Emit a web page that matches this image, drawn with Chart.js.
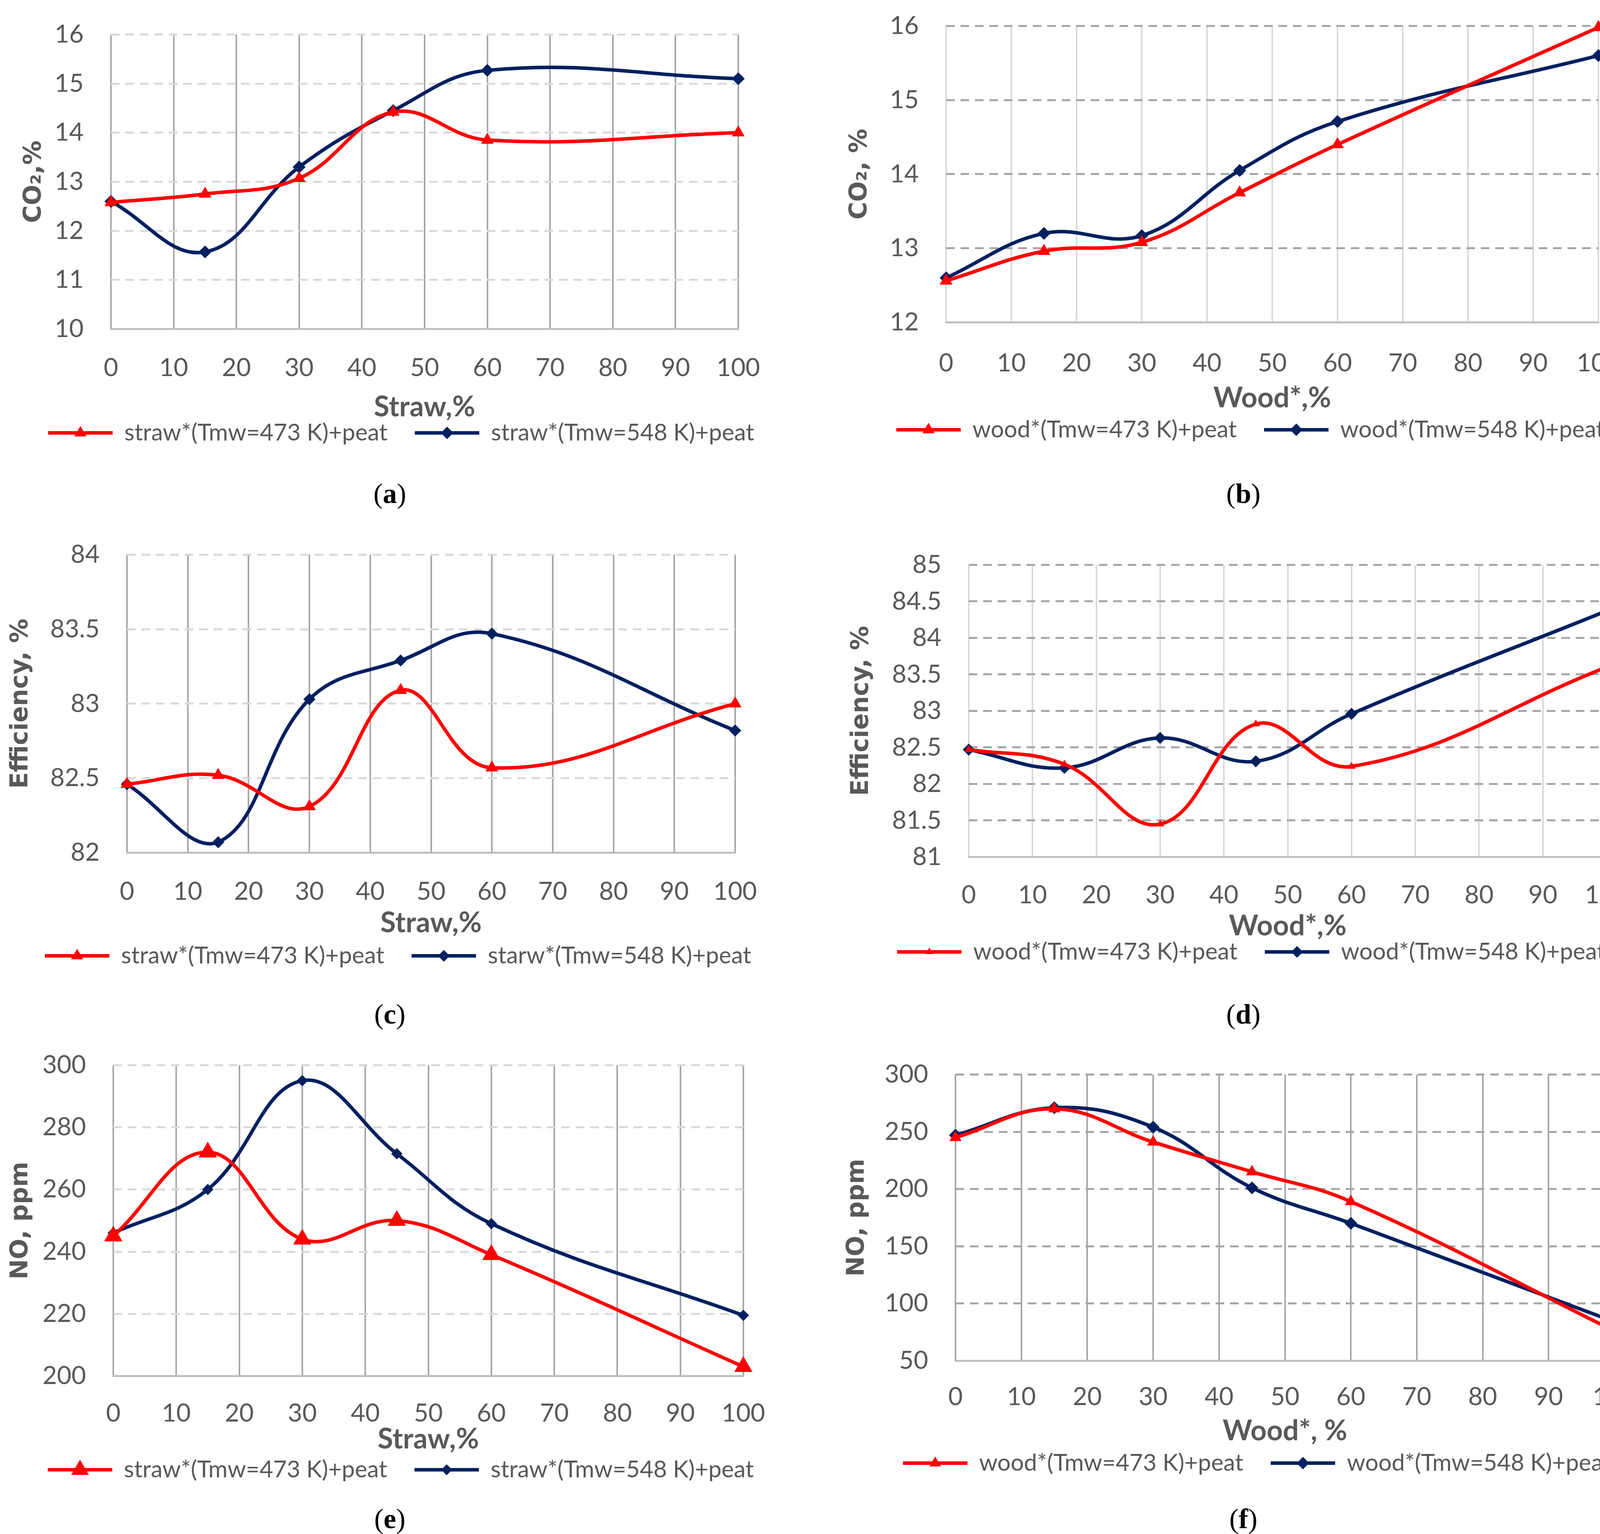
<!DOCTYPE html>
<html lang="en">
<head>
<meta charset="UTF-8">
<title>CO2, efficiency and NO of straw*/wood* + peat blends</title>
<script src="https://cdn.jsdelivr.net/npm/chart.js"></script>
    <style>
        * {
        margin: 0;
        padding: 0;
        box-sizing: border-box;
        }

        html, body {
        width: 4200px;
        height: 3928px;
        overflow: hidden;
        background: #fff;
        }

        #page {
        position: relative;
        width: 4200px;
        height: 3928px;
        overflow: hidden;
        }

        .panel {
        position: absolute;
        }

        .cap {
        position: absolute;
        width: 300px;
        margin-left: -150px;
        text-align: center;
        font-family: 'Liberation Serif', serif;
        font-size: 72px;
        line-height: 1;
        color: #000;
        }
    </style>
</head>
<body>
<div id="page">

    <div class="panel" id="pa"><canvas id="ca"></canvas></div>
    <div class="panel" id="pb"><canvas id="cb"></canvas></div>
    <div class="panel" id="pc"><canvas id="cc"></canvas></div>
    <div class="panel" id="pd"><canvas id="cd"></canvas></div>
    <div class="panel" id="pe"><canvas id="ce"></canvas></div>
    <div class="panel" id="pf"><canvas id="cf"></canvas></div>

    <div class="cap" style="left:998px; top:1228px;">(<b>a</b>)</div>
    <div class="cap" style="left:3183px; top:1228px;">(<b>b</b>)</div>
    <div class="cap" style="left:998px; top:2561px;">(<b>c</b>)</div>
    <div class="cap" style="left:3183px; top:2561px;">(<b>d</b>)</div>
    <div class="cap" style="left:998px; top:3853px;">(<b>e</b>)</div>
    <div class="cap" style="left:3183px; top:3853px;">(<b>f</b>)</div>

</div>

    <script>
        // share of straw* / wood* in the blend, %
        const mixX = [0, 15, 30, 45, 60, 100];
        const xTicks = [0, 10, 20, 30, 40, 50, 60, 70, 80, 90, 100];

        // (a) CO2 vs straw
        const co2Straw473 = [12.58, 12.75, 13.07, 14.42, 13.85, 14.0];
        const co2Straw548 = [12.6, 11.57, 13.3, 14.45, 15.27, 15.1];
        const co2StrawTicks = [10, 11, 12, 13, 14, 15, 16];

        // (b) CO2 vs wood
        const co2Wood473 = [12.56, 12.96, 13.08, 13.75, 14.4, 15.98];
        const co2Wood548 = [12.6, 13.2, 13.17, 14.05, 14.71, 15.6];
        const co2WoodTicks = [12, 13, 14, 15, 16];

        // (c) efficiency vs straw
        const effStraw473 = [82.46, 82.52, 82.31, 83.09, 82.57, 83.0];
        const effStraw548 = [82.46, 82.07, 83.03, 83.29, 83.47, 82.82];
        const effStrawTicks = [82, 82.5, 83, 83.5, 84];

        // (d) efficiency vs wood
        const effWood473 = [82.47, 82.27, 81.45, 82.82, 82.24, 83.6];
        const effWood548 = [82.47, 82.22, 82.63, 82.31, 82.96, 84.37];
        const effWoodTicks = [81, 81.5, 82, 82.5, 83, 83.5, 84, 84.5, 85];

        // (e) NO vs straw
        const noStraw473 = [245, 272, 244, 250, 239, 203];
        const noStraw548 = [246, 260, 295, 271.5, 249, 219.5];
        const noStrawTicks = [200, 220, 240, 260, 280, 300];

        // (f) NO vs wood
        const noWood473 = [245, 270, 241, 215, 189, 76];
        const noWood548 = [247, 271, 254, 201, 170, 84];
        const noWoodTicks = [50, 100, 150, 200, 250, 300];

        const strawNames = ['straw*(Tmw=473 K)+peat', 'straw*(Tmw=548 K)+peat'];
        const strawNamesC = ['straw*(Tmw=473 K)+peat', 'starw*(Tmw=548 K)+peat'];
        const woodNames = ['wood*(Tmw=473 K)+peat', 'wood*(Tmw=548 K)+peat'];

        const RED = '#ff0000';
        const NAVY = '#002060';
        const GREY_TXT = '#595959';
        const DARK_GRID = '#a6a6a6';
        const LIGHT_GRID = '#d9d9d9';

        const TICK_FONT = 64;
        const TICK_PAD = 70;
        const LEG_FONT = 60;
        const LEG_PAD = 70;
        const XT_FONT = 72;
        const YT_FONT = 62;

        // draws the marker in the middle of each legend line
        const legendMarks = {
            id: 'legendMarks',
            afterDraw(chart) {
                const lg = chart.legend;
                if (!lg || !lg.legendHitBoxes) return;
                const ctx = chart.ctx;
                const bw = lg.options.labels.boxWidth;
                lg.legendHitBoxes.forEach((hb, i) => {
                    const ds = chart.data.datasets[lg.legendItems[i].datasetIndex];
                    const cx = hb.left + bw / 2;
                    const cy = hb.top + LEG_FONT / 2;
                    const r = ds.pointRadius;
                    ctx.save();
                    ctx.fillStyle = ds.borderColor;
                    ctx.beginPath();
                    if (ds.pointStyle === 'triangle') {
                        for (let k = 0; k < 3; k++) {
                            const a = k * 2 * Math.PI / 3;
                            const px = cx + Math.sin(a) * r, py = cy - Math.cos(a) * r;
                            if (k === 0) ctx.moveTo(px, py); else ctx.lineTo(px, py);
                        }
                    } else {
                        ctx.moveTo(cx - r, cy);
                        ctx.lineTo(cx, cy - r);
                        ctx.lineTo(cx + r, cy);
                        ctx.lineTo(cx, cy + r);
                    }
                    ctx.closePath();
                    ctx.fill();
                    ctx.restore();
                });
            }
        };

        function line(name, ys, color, style, radius) {
            return {
                label: name,
                data: mixX.map((x, i) => ({x: x, y: ys[i]})),
                yAxisID: 'y',
                borderColor: color,
                backgroundColor: color,
                pointBackgroundColor: color,
                pointBorderColor: color,
                pointBorderWidth: 1,
                pointStyle: style,
                pointRadius: radius,
                borderWidth: 9,
                tension: 0.4,
                clip: false
            };
        }

        function draw(p) {
            // geometry in page pixels; the y axis keeps half a label + padding above the plot
            const top = p.plot[1] - (TICK_FONT * 0.6 + TICK_PAD);
            const width = 2 * (p.legendX - p.left);
            const legTop = p.legendY - LEG_PAD - LEG_FONT / 2;
            const height = legTop + LEG_FONT + LEG_PAD + 10 - top;
            const box = document.getElementById(p.box);
            box.style.left = p.left + 'px';
            box.style.top = top + 'px';
            box.style.width = width + 'px';
            box.style.height = height + 'px';

            const yW = p.plot[0] - p.left;
            const y2W = p.left + width - p.plot[2];
            const xH = legTop - p.plot[3];

            new Chart(document.getElementById(p.canvas), {
                type: 'line',
                data: {
                    datasets: [
                        line(p.names[0], p.red, RED, 'triangle', p.redR),
                        line(p.names[1], p.blue, NAVY, 'rectRot', p.blueR)
                    ]
                },
                options: {
                    responsive: true,
                    maintainAspectRatio: false,
                    animation: false,
                    devicePixelRatio: 1,
                    layout: { padding: 0 },
                    plugins: {
                        tooltip: { enabled: false },
                        legend: {
                            position: 'bottom',
                            labels: {
                                boxWidth: 165,
                                boxHeight: 9,
                                padding: LEG_PAD,
                                color: GREY_TXT,
                                font: { family: 'Lato', size: LEG_FONT },
                                generateLabels(chart) {
                                    const items = Chart.defaults.plugins.legend.labels.generateLabels(chart);
                                    items.forEach(it => { it.lineWidth = 0; it.fillStyle = it.strokeStyle; });
                                    return items;
                                }
                            }
                        }
                    },
                    scales: {
                        x: {
                            type: 'linear',
                            min: 0,
                            max: 100,
                            afterBuildTicks: s => { s.ticks = xTicks.map(v => ({value: v})); },
                            afterFit: s => { s.height = xH; },
                            ticks: {
                                padding: p.tickY - p.plot[3] - TICK_FONT * 0.6,
                                color: GREY_TXT,
                                font: { family: 'Lato', size: TICK_FONT },
                                maxRotation: 0
                            },
                            grid: { color: p.vGrid, lineWidth: 4, drawTicks: false },
                            border: { display: true, color: '#bfbfbf', width: 5 },
                            title: {
                                display: true,
                                text: p.xTitle,
                                color: GREY_TXT,
                                font: { family: 'Lato', size: XT_FONT, weight: 'bold', lineHeight: 1 },
                                padding: { top: 0, bottom: legTop - XT_FONT / 2 - p.titleY }
                            }
                        },
                        y: {
                            min: p.yTicks[0],
                            max: p.yTicks[p.yTicks.length - 1],
                            afterBuildTicks: s => { s.ticks = p.yTicks.map(v => ({value: v})); },
                            afterFit: s => { s.width = yW; },
                            ticks: {
                                padding: TICK_PAD,
                                color: GREY_TXT,
                                font: { family: 'Lato', size: TICK_FONT },
                                callback: v => String(v)
                            },
                            grid: { color: p.hGrid, lineWidth: 5, drawTicks: false },
                            border: { display: false, dash: [22, 15] },
                            title: {
                                display: true,
                                text: p.yTitle,
                                color: GREY_TXT,
                                font: { family: 'DejaVu Sans', size: YT_FONT, weight: 'bold', lineHeight: 1.2 },
                                padding: { top: p.yTitleX - p.left - YT_FONT * 0.6, bottom: 0 }
                            }
                        },
                        y2: {
                            position: 'right',
                            display: true,
                            afterFit: s => { s.width = y2W; },
                            ticks: { display: false },
                            grid: { display: false, drawTicks: false },
                            border: { display: false }
                        }
                    }
                },
                plugins: [legendMarks]
            });
        }

        document.addEventListener('DOMContentLoaded', () => {
            draw({ box: 'pa', canvas: 'ca', left: 0, plot: [284, 88, 1890, 842], legendX: 1027, legendY: 1108, titleY: 1042, tickY: 942, yTitleX: 88,
                   red: co2Straw473, blue: co2Straw548, yTicks: co2StrawTicks, names: strawNames, redR: 18, blueR: 16,
                   xTitle: 'Straw,%', yTitle: 'CO\u2082,%', vGrid: DARK_GRID, hGrid: LIGHT_GRID });
            draw({ box: 'pb', canvas: 'cb', left: 2100, plot: [2422, 66, 4092, 825], legendX: 3201, legendY: 1100, titleY: 1019, tickY: 930, yTitleX: 2202,
                   red: co2Wood473, blue: co2Wood548, yTicks: co2WoodTicks, names: woodNames, redR: 18, blueR: 16,
                   xTitle: 'Wood*,%', yTitle: 'CO\u2082, %', vGrid: LIGHT_GRID, hGrid: DARK_GRID });
            draw({ box: 'pc', canvas: 'cc', left: 0, plot: [325, 1420, 1882, 2183], legendX: 1019, legendY: 2447, titleY: 2363, tickY: 2283, yTitleX: 54,
                   red: effStraw473, blue: effStraw548, yTicks: effStrawTicks, names: strawNamesC, redR: 18, blueR: 15,
                   xTitle: 'Straw,%', yTitle: 'Efficiency, %', vGrid: DARK_GRID, hGrid: LIGHT_GRID });
            draw({ box: 'pd', canvas: 'cd', left: 2100, plot: [2480, 1446, 4113, 2194], legendX: 3203, legendY: 2437, titleY: 2371, tickY: 2292, yTitleX: 2206,
                   red: effWood473, blue: effWood548, yTicks: effWoodTicks, names: woodNames, redR: 11, blueR: 15,
                   xTitle: 'Wood*,%', yTitle: 'Efficiency, %', vGrid: LIGHT_GRID, hGrid: DARK_GRID });
            draw({ box: 'pe', canvas: 'ce', left: 0, plot: [290, 2727, 1903, 3523], legendX: 1026, legendY: 3763, titleY: 3685, tickY: 3619, yTitleX: 54,
                   red: noStraw473, blue: noStraw548, yTicks: noStrawTicks, names: strawNames, redR: 26, blueR: 14,
                   xTitle: 'Straw,%', yTitle: 'NO, ppm', vGrid: DARK_GRID, hGrid: LIGHT_GRID });
            draw({ box: 'pf', canvas: 'cf', left: 2100, plot: [2446, 2751, 4133, 3484], legendX: 3218, legendY: 3746, titleY: 3664, tickY: 3577, yTitleX: 2195,
                   red: noWood473, blue: noWood548, yTicks: noWoodTicks, names: woodNames, redR: 17, blueR: 16,
                   xTitle: 'Wood*, %', yTitle: 'NO, ppm', vGrid: DARK_GRID, hGrid: DARK_GRID });
        });
    </script>

</body>
</html>
